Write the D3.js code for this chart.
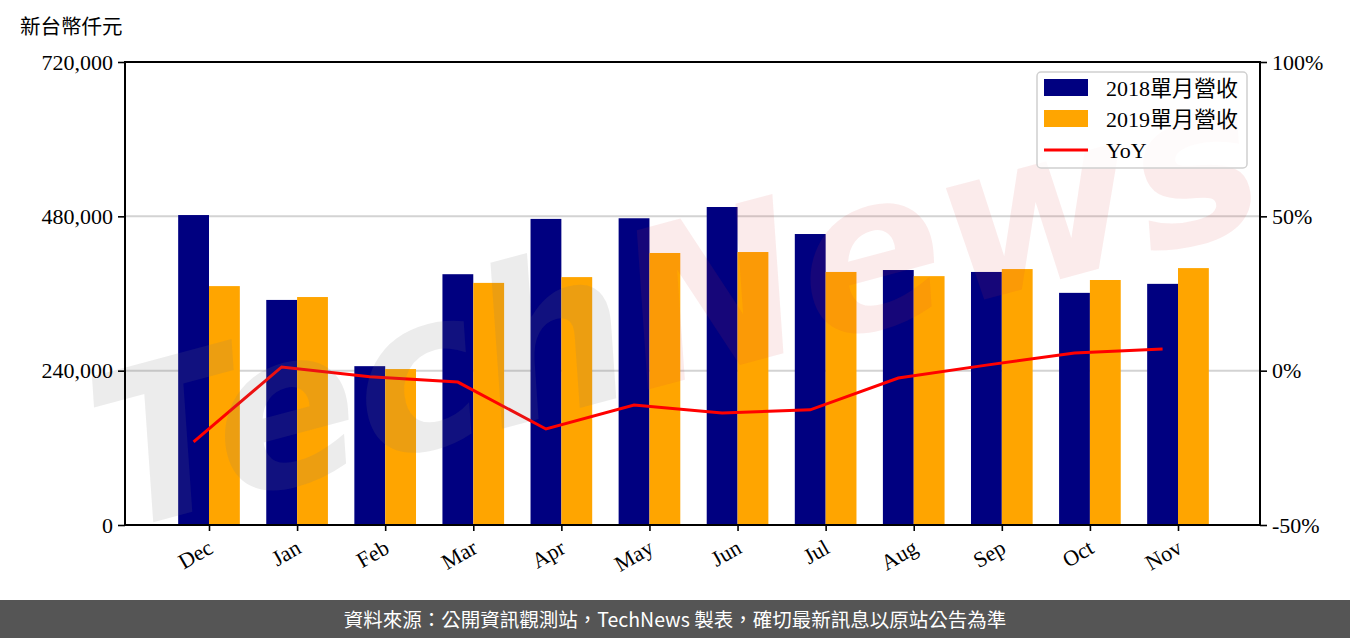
<!DOCTYPE html>
<html><head><meta charset="utf-8">
<script src="https://cdn.jsdelivr.net/npm/d3@7"></script>
<style>
body{margin:0;background:#fff;}
svg text{font-family:"Liberation Serif","Noto Sans CJK TC",serif;}
</style></head>
<body><svg id="c" width="1350" height="638"></svg>
<script>
const months = ["Dec","Jan","Feb","Mar","Apr","May","Jun","Jul","Aug","Sep","Oct","Nov"];
const rev2018 = [482000,350000,247000,390000,476000,477000,494500,452500,396500,393500,361000,375000];
const rev2019 = [371500,354500,242500,376500,385500,423000,424500,393500,387000,398000,381000,399500];
const yoy = [-23.1,1.2,-2.0,-3.7,-18.9,-11.1,-13.7,-12.7,-2.4,1.8,5.7,7.0];
const leftTicks = [0,240000,480000,720000];
const rightTicks = [-50,0,50,100];
const seriesNames = ["2018單月營收","2019單月營收","YoY"];
const colors = ["#000080","#FFA500","#FF0000"];

const svg = d3.select("#c");
const L=125,R=1260,T=62,B=525;
const x = d3.scaleLinear().domain([0,11]).range([209,1178]);
const unit = x(1)-x(0);
const bw = 0.35*unit;
const y = d3.scaleLinear().domain([0,720000]).range([B,T]);
const y2 = d3.scaleLinear().domain([-50,100]).range([B,T]);

// gridlines
svg.append("g").selectAll("line").data([240000,480000]).join("line")
  .attr("x1",L).attr("x2",R).attr("y1",d=>y(d)).attr("y2",d=>y(d))
  .attr("stroke","#d3d3d3").attr("stroke-width",2);

// bars
svg.append("g").selectAll("rect").data(rev2018).join("rect")
  .attr("x",(d,i)=>x(i)-bw).attr("width",bw).attr("y",d=>y(d)).attr("height",d=>B-y(d)).attr("fill",colors[0]);
svg.append("g").selectAll("rect").data(rev2019).join("rect")
  .attr("x",(d,i)=>x(i)).attr("width",bw).attr("y",d=>y(d)).attr("height",d=>B-y(d)).attr("fill",colors[1]);

// line
svg.append("path").datum(yoy)
  .attr("d",d3.line().x((d,i)=>x(i)-bw/2).y(d=>y2(d)))
  .attr("fill","none").attr("stroke",colors[2]).attr("stroke-width",3);

// watermark
const wm = svg.append("text").attr("transform","translate(680,320) rotate(-15)")
  .attr("text-anchor","middle").style("font-family","'DejaVu Sans'").style("font-style","italic")
  .style("font-weight","bold").style("font-size","215px").attr("dominant-baseline","middle");
wm.append("tspan").text("Tech").attr("fill","rgba(120,120,120,0.14)");
wm.append("tspan").text("News").attr("fill","rgba(215,60,60,0.1)");

// frame
svg.append("rect").attr("x",L).attr("y",T).attr("width",R-L).attr("height",B-T)
  .attr("fill","none").attr("stroke","#000").attr("stroke-width",2);

// axes
const fmt = d3.format(",");
const ax = svg.append("g").attr("transform",`translate(${L},0)`)
  .call(d3.axisLeft(y).tickValues(leftTicks).tickFormat(fmt).tickSize(7).tickPadding(5));
const ar = svg.append("g").attr("transform",`translate(${R},0)`)
  .call(d3.axisRight(y2).tickValues(rightTicks).tickFormat(d=>d+"%").tickSize(7).tickPadding(5));
const ab = svg.append("g").attr("transform",`translate(0,${B})`)
  .call(d3.axisBottom(x).tickValues(d3.range(12)).tickFormat(i=>months[i]).tickSize(6));
[ax,ar,ab].forEach(g=>{
  g.select(".domain").remove();
  g.selectAll(".tick line").attr("stroke","#000").attr("stroke-width",1.6);
  g.selectAll("text").style("font-size","22px").attr("fill","#000");
});
ab.selectAll("text").attr("text-anchor","end").attr("dy","0")
  .attr("transform","translate(5,27) rotate(-30)").attr("y",0);

// y label
svg.append("text").attr("x",20).attr("y",34).text("新台幣仟元").style("font-size","20.5px")
  .style("font-family","'Noto Sans CJK TC'");

// legend
const lg = svg.append("g");
lg.append("rect").attr("x",1037).attr("y",72).attr("width",210).attr("height",96).attr("rx",4)
  .attr("fill","rgba(255,255,255,0.8)").attr("stroke","#d0d0d0").attr("stroke-width",1.5);
seriesNames.forEach((n,i)=>{
  const cy = 88 + i*31;
  if(i<2) lg.append("rect").attr("x",1044).attr("y",cy-9).attr("width",44).attr("height",17).attr("fill",colors[i]);
  else lg.append("line").attr("x1",1044).attr("x2",1088).attr("y1",cy).attr("y2",cy).attr("stroke",colors[i]).attr("stroke-width",3);
  lg.append("text").attr("x",1106).attr("y",cy+8).text(n).style("font-size","22px");
});

// footer
svg.append("rect").attr("x",0).attr("y",600).attr("width",1350).attr("height",38).attr("fill","#555555");
svg.append("text").attr("x",675).attr("y",627).attr("text-anchor","middle").attr("fill","#fff")
  .style("font-family","'Noto Sans CJK TC'").style("font-size","19.5px")
  .text("資料來源：公開資訊觀測站，TechNews 製表，確切最新訊息以原站公告為準");
</script></body></html>
